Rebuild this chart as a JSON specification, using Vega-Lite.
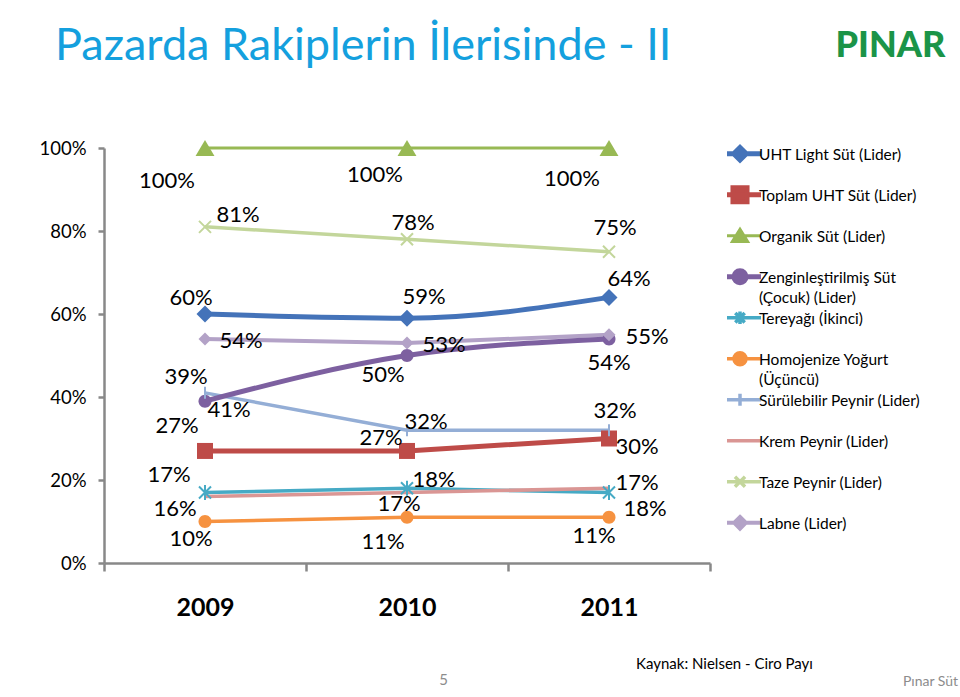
{
  "$schema": "https://vega.github.io/schema/vega-lite/v6.json",
  "width": 606,
  "height": 415,
  "autosize": {"type": "none"},
  "padding": {"left": 104, "top": 148, "right": 250, "bottom": 134},
  "background": "white",
  "view": {"stroke": null},
  "config": {"font": "Lato"},
  "title": {
    "text": "Pazarda Rakiplerin İlerisinde - II",
    "anchor": "start",
    "frame": "group",
    "dx": -49,
    "dy": 78,
    "offset": 0,
    "baseline": "alphabetic",
    "font": "Lato",
    "fontSize": 45,
    "fontWeight": "normal",
    "color": "#14A0DE"
  },
  "data": {
    "values": [
      {"s": "UHT Light Süt (Lider)", "k": "uht", "year": "2009", "v": 0.60},
      {"s": "UHT Light Süt (Lider)", "k": "uht", "year": "2010", "v": 0.59},
      {"s": "UHT Light Süt (Lider)", "k": "uht", "year": "2011", "v": 0.64},
      {"s": "Toplam UHT Süt (Lider)", "k": "top", "year": "2009", "v": 0.27},
      {"s": "Toplam UHT Süt (Lider)", "k": "top", "year": "2010", "v": 0.27},
      {"s": "Toplam UHT Süt (Lider)", "k": "top", "year": "2011", "v": 0.30},
      {"s": "Organik Süt (Lider)", "k": "org", "year": "2009", "v": 1.00},
      {"s": "Organik Süt (Lider)", "k": "org", "year": "2010", "v": 1.00},
      {"s": "Organik Süt (Lider)", "k": "org", "year": "2011", "v": 1.00},
      {"s": "Zenginleştirilmiş Süt (Çocuk) (Lider)", "k": "zen", "year": "2009", "v": 0.39},
      {"s": "Zenginleştirilmiş Süt (Çocuk) (Lider)", "k": "zen", "year": "2010", "v": 0.50},
      {"s": "Zenginleştirilmiş Süt (Çocuk) (Lider)", "k": "zen", "year": "2011", "v": 0.54},
      {"s": "Tereyağı (İkinci)", "k": "ter", "year": "2009", "v": 0.17},
      {"s": "Tereyağı (İkinci)", "k": "ter", "year": "2010", "v": 0.18},
      {"s": "Tereyağı (İkinci)", "k": "ter", "year": "2011", "v": 0.17},
      {"s": "Homojenize Yoğurt (Üçüncü)", "k": "yog", "year": "2009", "v": 0.10},
      {"s": "Homojenize Yoğurt (Üçüncü)", "k": "yog", "year": "2010", "v": 0.11},
      {"s": "Homojenize Yoğurt (Üçüncü)", "k": "yog", "year": "2011", "v": 0.11},
      {"s": "Sürülebilir Peynir (Lider)", "k": "sur", "year": "2009", "v": 0.41},
      {"s": "Sürülebilir Peynir (Lider)", "k": "sur", "year": "2010", "v": 0.32},
      {"s": "Sürülebilir Peynir (Lider)", "k": "sur", "year": "2011", "v": 0.32},
      {"s": "Krem Peynir (Lider)", "k": "krm", "year": "2009", "v": 0.16},
      {"s": "Krem Peynir (Lider)", "k": "krm", "year": "2010", "v": 0.17},
      {"s": "Krem Peynir (Lider)", "k": "krm", "year": "2011", "v": 0.18},
      {"s": "Taze Peynir (Lider)", "k": "taz", "year": "2009", "v": 0.81},
      {"s": "Taze Peynir (Lider)", "k": "taz", "year": "2010", "v": 0.78},
      {"s": "Taze Peynir (Lider)", "k": "taz", "year": "2011", "v": 0.75},
      {"s": "Labne (Lider)", "k": "lab", "year": "2009", "v": 0.54},
      {"s": "Labne (Lider)", "k": "lab", "year": "2010", "v": 0.53},
      {"s": "Labne (Lider)", "k": "lab", "year": "2011", "v": 0.55}
    ]
  },
  "encoding": {
    "x": {
      "field": "year",
      "type": "nominal",
      "scale": {"paddingInner": 0, "paddingOuter": 0},
      "axis": {
        "title": "Kaynak: Nielsen - Ciro Payı",
        "titleX": 620,
        "titleY": 100,
        "titleAlign": "center",
        "titleBaseline": "middle",
        "titleFont": "Lato",
        "titleFontSize": 15,
        "titleFontWeight": "normal",
        "titleColor": "#000000",
        "labelFont": "Lato",
        "labelFontSize": 25,
        "labelFontWeight": "bold",
        "labelColor": "#000000",
        "labelAngle": 0,
        "labelPadding": 24,
        "domainColor": "#888888",
        "domainWidth": 2.5,
        "tickColor": "#888888",
        "tickWidth": 2.5,
        "tickSize": 8,
        "tickBand": "extent"
      }
    },
    "y": {
      "field": "v",
      "type": "quantitative",
      "scale": {"domain": [0, 1], "nice": false, "zero": true},
      "axis": {
        "values": [0, 0.2, 0.4, 0.6, 0.8, 1],
        "format": ".0%",
        "grid": false,
        "title": "Pınar Süt",
        "titleAngle": 0,
        "titleX": 826,
        "titleY": 533,
        "titleAlign": "center",
        "titleBaseline": "middle",
        "titleFont": "Lato",
        "titleFontSize": 14,
        "titleFontWeight": "normal",
        "titleColor": "#8c8c8c",
        "labelFont": "Lato",
        "labelFontSize": 18.5,
        "labelColor": "#000000",
        "labelPadding": 12,
        "domainColor": "#888888",
        "domainWidth": 2.5,
        "tickColor": "#888888",
        "tickWidth": 2.5,
        "tickSize": 6
      }
    }
  },
  "resolve": {"axis": {"x": "independent", "y": "independent"}},
  "layer": [
    {
      "encoding": {
        "color": {
          "field": "s",
          "type": "nominal",
          "scale": {
            "domain": ["UHT Light Süt (Lider)", "Toplam UHT Süt (Lider)", "Organik Süt (Lider)", "Zenginleştirilmiş Süt (Çocuk) (Lider)", "Tereyağı (İkinci)", "Homojenize Yoğurt (Üçüncü)", "Sürülebilir Peynir (Lider)", "Krem Peynir (Lider)", "Taze Peynir (Lider)", "Labne (Lider)"],
            "range": ["#4473B9", "#BE4B48", "#98B954", "#7D60A0", "#46AAC5", "#F69240", "#94AED6", "#DA9694", "#C3D69B", "#B3A2C7"]
          },
          "legend": {
            "orient": "none",
            "legendX": 623,
            "legendY": -4.5,
            "title": null,
            "padding": 0,
            "symbolSize": 441,
            "symbolOpacity": 1,
            "clipHeight": 40.5,
            "rowPadding": 0,
            "labelFont": "Lato",
            "labelFontSize": 15.5,
            "labelColor": "#000000",
            "labelOffset": 6,
            "labelLimit": 300,
            "labelBaseline": "alphabetic",
            "labelExpr": "datum.label == 'Zenginleştirilmiş Süt (Çocuk) (Lider)' ? ['Zenginleştirilmiş Süt', '(Çocuk) (Lider)'] : datum.label == 'Homojenize Yoğurt (Üçüncü)' ? ['Homojenize Yoğurt', '(Üçüncü)'] : datum.label",
            "encode": {
              "symbols": {
                "update": {
                  "shape": {"signal": "{'UHT Light Süt (Lider)': 'M-2,-0.95H2M0,-1.55L0.6,-0.95L0,-0.35L-0.6,-0.95Z', 'Toplam UHT Süt (Lider)': 'M-2,-0.95H2M-0.67,-1.62H0.67V-0.28H-0.67Z', 'Organik Süt (Lider)': 'M-2,-0.95H2M0,-1.57L0.72,-0.4H-0.72Z', 'Zenginleştirilmiş Süt (Çocuk) (Lider)': 'M-2,-0.95H2M-0.57,-0.95A0.57,0.57 0 1,0 0.57,-0.95A0.57,0.57 0 1,0 -0.57,-0.95Z', 'Tereyağı (İkinci)': 'M-2,-0.95H2M-0.45,-1.4L0.45,-0.5M-0.45,-0.5L0.45,-1.4M0,-1.55V-0.35', 'Homojenize Yoğurt (Üçüncü)': 'M-2,-0.95H2M-0.57,-0.95A0.57,0.57 0 1,0 0.57,-0.95A0.57,0.57 0 1,0 -0.57,-0.95Z', 'Sürülebilir Peynir (Lider)': 'M-2,-0.95H2M0,-1.52V-0.38', 'Krem Peynir (Lider)': 'M-2,-0.95H2', 'Taze Peynir (Lider)': 'M-2,-0.95H2M-0.48,-1.43L0.48,-0.47M-0.48,-0.47L0.48,-1.43', 'Labne (Lider)': 'M-2,-0.95H2M0,-1.5L0.55,-0.95L0,-0.4L-0.55,-0.95Z'}[datum.value]"},
                  "fill": {"scale": "color", "field": "value"},
                  "stroke": {"scale": "color", "field": "value"},
                  "strokeWidth": {"value": 2.5},
                  "opacity": {"value": 1},
                  "fillOpacity": {"value": 1},
                  "strokeOpacity": {"value": 1}
                }
              },
              "labels": {"update": {"dy": {"value": -4.2}, "lineHeight": {"value": 20}}}
            }
          }
        }
      },
      "layer": [
        {
          "transform": [{"filter": "datum.k != 'uht' && datum.k != 'zen'"}],
          "mark": {"type": "line", "interpolate": "linear"},
          "encoding": {
            "strokeWidth": {
              "field": "s",
              "type": "nominal",
              "scale": {
                "type": "ordinal",
                "domain": ["UHT Light Süt (Lider)", "Toplam UHT Süt (Lider)", "Organik Süt (Lider)", "Zenginleştirilmiş Süt (Çocuk) (Lider)", "Tereyağı (İkinci)", "Homojenize Yoğurt (Üçüncü)", "Sürülebilir Peynir (Lider)", "Krem Peynir (Lider)", "Taze Peynir (Lider)", "Labne (Lider)"],
                "range": [5, 5, 3, 5, 3.5, 3.5, 3.5, 3.5, 3.5, 4]
              },
              "legend": null
            }
          }
        },
        {
          "transform": [{"filter": "datum.k == 'uht' || datum.k == 'zen'"}],
          "mark": {"type": "line", "interpolate": "monotone"},
          "encoding": {
            "strokeWidth": {
              "field": "s",
              "type": "nominal",
              "scale": {
                "type": "ordinal",
                "domain": ["UHT Light Süt (Lider)", "Toplam UHT Süt (Lider)", "Organik Süt (Lider)", "Zenginleştirilmiş Süt (Çocuk) (Lider)", "Tereyağı (İkinci)", "Homojenize Yoğurt (Üçüncü)", "Sürülebilir Peynir (Lider)", "Krem Peynir (Lider)", "Taze Peynir (Lider)", "Labne (Lider)"],
                "range": [5, 5, 3, 5, 3.5, 3.5, 3.5, 3.5, 3.5, 4]
              },
              "legend": null
            }
          }
        },
        {"transform": [{"filter": "datum.k == 'uht'"}], "mark": {"type": "point", "filled": true, "opacity": 1, "strokeWidth": 0, "shape": "M0,-1L1,0L0,1L-1,0Z", "size": 289}},
        {"transform": [{"filter": "datum.k == 'top'"}], "mark": {"type": "point", "filled": true, "opacity": 1, "strokeWidth": 0, "shape": "M-1,-1H1V1H-1Z", "size": 256}},
        {"transform": [{"filter": "datum.k == 'org'"}], "mark": {"type": "point", "filled": true, "opacity": 1, "strokeWidth": 0, "shape": "M0,-0.9L1.05,0.9H-1.05Z", "size": 324}},
        {"transform": [{"filter": "datum.k == 'zen'"}], "mark": {"type": "point", "filled": true, "opacity": 1, "strokeWidth": 0, "shape": "M-1,0A1,1 0 1,0 1,0A1,1 0 1,0 -1,0Z", "size": 169}},
        {"transform": [{"filter": "datum.k == 'yog'"}], "mark": {"type": "point", "filled": true, "opacity": 1, "strokeWidth": 0, "shape": "M-1,0A1,1 0 1,0 1,0A1,1 0 1,0 -1,0Z", "size": 169}},
        {"transform": [{"filter": "datum.k == 'lab'"}], "mark": {"type": "point", "filled": true, "opacity": 1, "strokeWidth": 0, "shape": "M0,-1L1,0L0,1L-1,0Z", "size": 169}},
        {"transform": [{"filter": "datum.k == 'ter'"}], "mark": {"type": "point", "filled": false, "opacity": 1, "strokeWidth": 2, "shape": "M-1,-1L1,1M-1,1L1,-1M0,-1.25V1.25", "size": 144}},
        {"transform": [{"filter": "datum.k == 'sur'"}], "mark": {"type": "point", "filled": false, "opacity": 1, "strokeWidth": 2, "shape": "M0,-1V1", "size": 144}},
        {"transform": [{"filter": "datum.k == 'taz'"}], "mark": {"type": "point", "filled": false, "opacity": 1, "strokeWidth": 2, "shape": "M-1,-1L1,1M-1,1L1,-1", "size": 144}}
      ]
    },
    {
      "encoding": {
        "x": {
          "field": "year",
          "type": "nominal",
          "axis": {
            "orient": "top",
            "domain": false,
            "ticks": false,
            "labels": false,
            "title": "5",
            "titleX": 339,
            "titleY": 531,
            "titleAlign": "center",
            "titleBaseline": "middle",
            "titleFont": "Lato",
            "titleFontSize": 15,
            "titleFontWeight": "normal",
            "titleColor": "#8c8c8c"
          }
        },
        "y": {
          "field": "v",
          "type": "quantitative",
          "axis": {
            "orient": "right",
            "domain": false,
            "ticks": false,
            "labels": false,
            "grid": false,
            "title": "PINAR",
            "titleAngle": 0,
            "titleX": 180,
            "titleY": -103,
            "titleAlign": "center",
            "titleBaseline": "middle",
            "titleFont": "Lato",
            "titleFontSize": 36,
            "titleFontWeight": 900,
            "titleColor": "#1B9448"
          }
        },
        "text": {"field": "v", "type": "quantitative", "format": ".0%"}
      },
      "layer": [
        {"transform": [{"filter": "datum.k=='org' && datum.year=='2009'"}], "mark": {"type": "text", "dx": -38, "dy": 33, "fontSize": 22, "font": "Lato", "color": "#000"}},
        {"transform": [{"filter": "datum.k=='org' && datum.year=='2010'"}], "mark": {"type": "text", "dx": -32, "dy": 27, "fontSize": 22, "font": "Lato", "color": "#000"}},
        {"transform": [{"filter": "datum.k=='org' && datum.year=='2011'"}], "mark": {"type": "text", "dx": -37, "dy": 31, "fontSize": 22, "font": "Lato", "color": "#000"}},
        {"transform": [{"filter": "datum.k=='taz' && datum.year=='2009'"}], "mark": {"type": "text", "dx": 33, "dy": -12, "fontSize": 22, "font": "Lato", "color": "#000"}},
        {"transform": [{"filter": "datum.k=='taz' && datum.year=='2010'"}], "mark": {"type": "text", "dx": 6, "dy": -16, "fontSize": 22, "font": "Lato", "color": "#000"}},
        {"transform": [{"filter": "datum.k=='taz' && datum.year=='2011'"}], "mark": {"type": "text", "dx": 6, "dy": -24, "fontSize": 22, "font": "Lato", "color": "#000"}},
        {"transform": [{"filter": "datum.k=='uht' && datum.year=='2009'"}], "mark": {"type": "text", "dx": -14, "dy": -16, "fontSize": 22, "font": "Lato", "color": "#000"}},
        {"transform": [{"filter": "datum.k=='uht' && datum.year=='2010'"}], "mark": {"type": "text", "dx": 17, "dy": -21, "fontSize": 22, "font": "Lato", "color": "#000"}},
        {"transform": [{"filter": "datum.k=='uht' && datum.year=='2011'"}], "mark": {"type": "text", "dx": 20, "dy": -18, "fontSize": 22, "font": "Lato", "color": "#000"}},
        {"transform": [{"filter": "datum.k=='lab' && datum.year=='2009'"}], "mark": {"type": "text", "dx": 36, "dy": 2, "fontSize": 22, "font": "Lato", "color": "#000"}},
        {"transform": [{"filter": "datum.k=='lab' && datum.year=='2010'"}], "mark": {"type": "text", "dx": 37, "dy": 2, "fontSize": 22, "font": "Lato", "color": "#000"}},
        {"transform": [{"filter": "datum.k=='lab' && datum.year=='2011'"}], "mark": {"type": "text", "dx": 38, "dy": 2, "fontSize": 22, "font": "Lato", "color": "#000"}},
        {"transform": [{"filter": "datum.k=='zen' && datum.year=='2009'"}], "mark": {"type": "text", "dx": -19, "dy": -24, "fontSize": 22, "font": "Lato", "color": "#000"}},
        {"transform": [{"filter": "datum.k=='zen' && datum.year=='2010'"}], "mark": {"type": "text", "dx": -24, "dy": 19, "fontSize": 22, "font": "Lato", "color": "#000"}},
        {"transform": [{"filter": "datum.k=='zen' && datum.year=='2011'"}], "mark": {"type": "text", "dx": 0, "dy": 24, "fontSize": 22, "font": "Lato", "color": "#000"}},
        {"transform": [{"filter": "datum.k=='sur' && datum.year=='2009'"}], "mark": {"type": "text", "dx": 24, "dy": 17, "fontSize": 22, "font": "Lato", "color": "#000"}},
        {"transform": [{"filter": "datum.k=='sur' && datum.year=='2010'"}], "mark": {"type": "text", "dx": 19, "dy": -8, "fontSize": 22, "font": "Lato", "color": "#000"}},
        {"transform": [{"filter": "datum.k=='sur' && datum.year=='2011'"}], "mark": {"type": "text", "dx": 6, "dy": -19, "fontSize": 22, "font": "Lato", "color": "#000"}},
        {"transform": [{"filter": "datum.k=='top' && datum.year=='2009'"}], "mark": {"type": "text", "dx": -28, "dy": -25, "fontSize": 22, "font": "Lato", "color": "#000"}},
        {"transform": [{"filter": "datum.k=='top' && datum.year=='2010'"}], "mark": {"type": "text", "dx": -26, "dy": -13, "fontSize": 22, "font": "Lato", "color": "#000"}},
        {"transform": [{"filter": "datum.k=='top' && datum.year=='2011'"}], "mark": {"type": "text", "dx": 28, "dy": 8, "fontSize": 22, "font": "Lato", "color": "#000"}},
        {"transform": [{"filter": "datum.k=='ter' && datum.year=='2009'"}], "mark": {"type": "text", "dx": -36, "dy": -17, "fontSize": 22, "font": "Lato", "color": "#000"}},
        {"transform": [{"filter": "datum.k=='ter' && datum.year=='2010'"}], "mark": {"type": "text", "dx": 27, "dy": -8, "fontSize": 22, "font": "Lato", "color": "#000"}},
        {"transform": [{"filter": "datum.k=='ter' && datum.year=='2011'"}], "mark": {"type": "text", "dx": 28, "dy": -9, "fontSize": 22, "font": "Lato", "color": "#000"}},
        {"transform": [{"filter": "datum.k=='krm' && datum.year=='2009'"}], "mark": {"type": "text", "dx": -30, "dy": 12, "fontSize": 22, "font": "Lato", "color": "#000"}},
        {"transform": [{"filter": "datum.k=='krm' && datum.year=='2010'"}], "mark": {"type": "text", "dx": -8, "dy": 12, "fontSize": 22, "font": "Lato", "color": "#000"}},
        {"transform": [{"filter": "datum.k=='krm' && datum.year=='2011'"}], "mark": {"type": "text", "dx": 36, "dy": 21, "fontSize": 22, "font": "Lato", "color": "#000"}},
        {"transform": [{"filter": "datum.k=='yog' && datum.year=='2009'"}], "mark": {"type": "text", "dx": -14, "dy": 17, "fontSize": 22, "font": "Lato", "color": "#000"}},
        {"transform": [{"filter": "datum.k=='yog' && datum.year=='2010'"}], "mark": {"type": "text", "dx": -24, "dy": 25, "fontSize": 22, "font": "Lato", "color": "#000"}},
        {"transform": [{"filter": "datum.k=='yog' && datum.year=='2011'"}], "mark": {"type": "text", "dx": -15, "dy": 19, "fontSize": 22, "font": "Lato", "color": "#000"}}
      ]
    }
  ]
}
